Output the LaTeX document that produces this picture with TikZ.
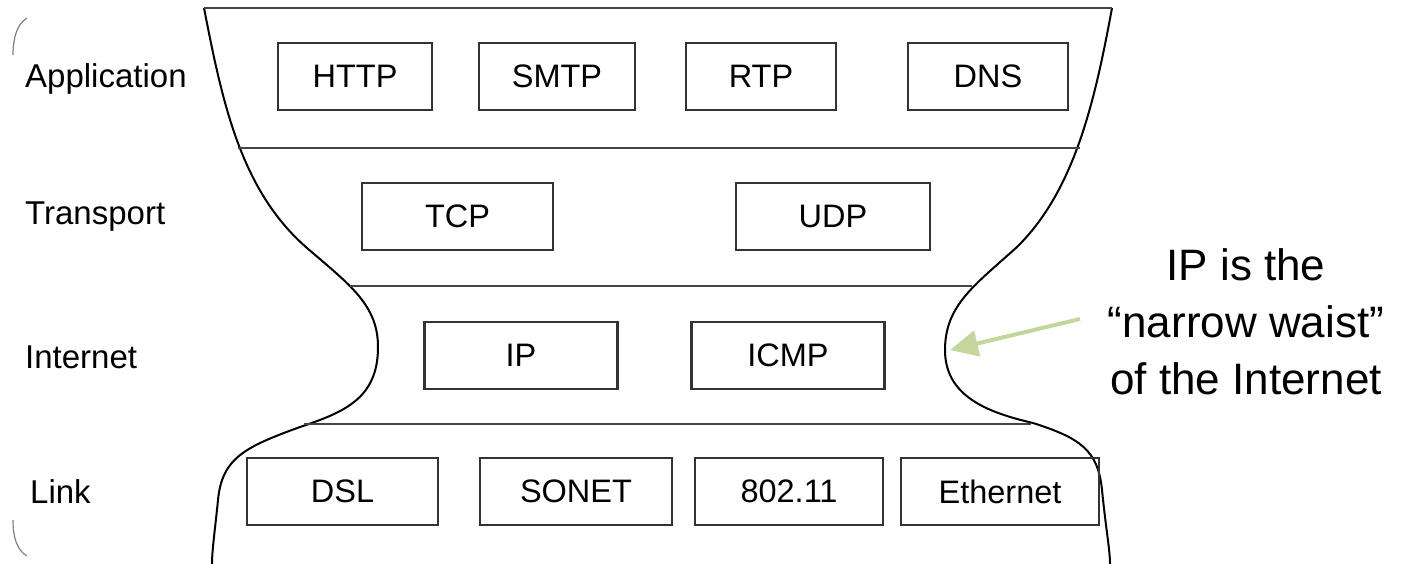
\documentclass[tikz,border=0pt]{standalone}
\usepackage{fontspec}
\setmainfont{Liberation Sans}
\usetikzlibrary{arrows.meta}
\definecolor{boxgray}{HTML}{333333}
\definecolor{rulegray}{HTML}{444444}
\definecolor{waistgreen}{HTML}{C3D69B}
\tikzset{
  proto/.style={draw=boxgray, line width=2.4pt, minimum height=67pt, inner sep=0pt,
    font=\fontsize{32.5}{36}\selectfont},
  layer/.style={anchor=west, inner sep=0pt, font=\fontsize{33}{36}\selectfont},
  hourglass/.style={draw=black, line width=2pt},
  divider/.style={draw=rulegray, line width=2pt},
  pointer/.style={draw=waistgreen, line width=4pt, -{Triangle[length=28pt,width=26pt]}},
}
\begin{document}
\begin{tikzpicture}[x=1pt,y=-1pt]
\useasboundingbox (0,0) rectangle (1416,564);

% hourglass outline
\draw[hourglass] (204,8) .. controls (222,100) and (240,190) .. (307,248)
  .. controls (350,285) and (378,305) .. (378,347)
  .. controls (378,398) and (345,412) .. (300,427)
  .. controls (245,447) and (222,458) .. (218,500)
  .. controls (215,530) and (212,550) .. (212,564);
\draw[hourglass] (1112,8) .. controls (1095,100) and (1075,190) .. (1017,247)
  .. controls (975,285) and (945,305) .. (945,350)
  .. controls (945,395) and (985,412) .. (1033,423)
  .. controls (1080,438) and (1098,450) .. (1102,490)
  .. controls (1106,530) and (1110,550) .. (1110,564);

% layer separators
\draw[divider] (204,8) -- (1112,8);
\draw[divider] (238,148) -- (1080,148);
\draw[divider] (350,286) -- (972,286);
\draw[divider] (304,424) -- (1031,424);

% faint bracket ends on the far left
\draw[gray, line width=1.2pt] (27,18) .. controls (17,24) and (13,38) .. (13,55);
\draw[gray, line width=1.2pt] (13,520) .. controls (13,538) and (17,550) .. (27,556);

% layer names
\node[layer] (lapp) at (25,79) {Application};
\node[layer] (ltra) at (25,217) {Transport};
\node[layer] (lint) at (25,357) {Internet};
\node[layer] (llnk) at (30,492) {Link};

% application layer
\node[proto, minimum width=154pt] (http) at (355,76.5) {HTTP};
\node[proto, minimum width=156pt] (smtp) at (557,76.5) {SMTP};
\node[proto, minimum width=150pt] (rtp)  at (761,76.5) {RTP};
\node[proto, minimum width=160pt] (dns)  at (988,76.5) {DNS};

% transport layer
\node[proto, minimum width=191pt] (tcp) at (457.5,216.5) {TCP};
\node[proto, minimum width=194pt] (udp) at (833,216.5) {UDP};

% internet layer
\node[proto, minimum width=193pt] (ip)   at (521,355.5) {IP};
\node[proto, minimum width=193pt] (icmp) at (788,355.5) {ICMP};

% link layer
\node[proto, minimum width=191pt] (dsl)   at (342.5,491.5) {DSL};
\node[proto, minimum width=192pt] (sonet) at (576,491.5) {SONET};
\node[proto, minimum width=188pt] (wifi)  at (789,491.5) {802.11};
\node[proto, minimum width=198pt] (eth)   at (1000,491.5) {Ethernet};

% annotation
\node[align=center, inner sep=0pt, font=\fontsize{44}{57}\selectfont] (note) at (1246,322)
  {IP is the\\“narrow waist”\\of the Internet};
\coordinate (tail) at (1080,319);
\coordinate (waist) at (950,350);
\draw[pointer] (tail) -- (waist);
\end{tikzpicture}
\end{document}
